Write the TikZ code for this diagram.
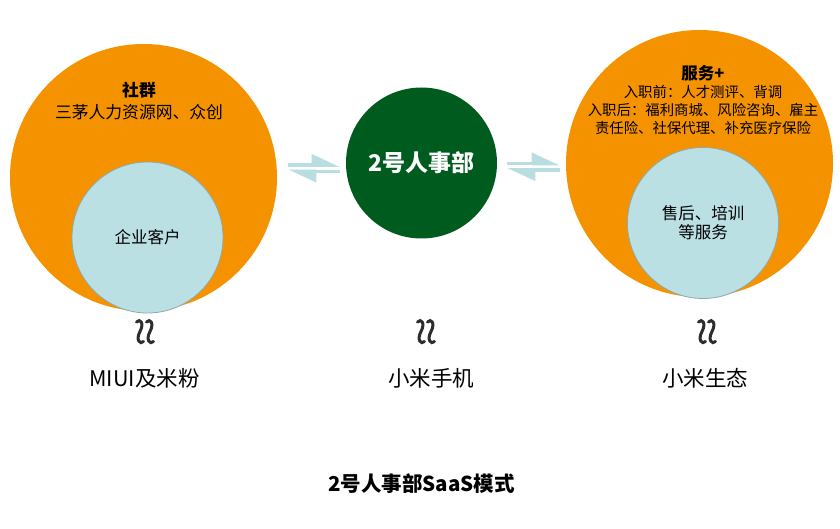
\documentclass[tikz,border=0pt]{standalone}
\usepackage{fontspec}
\setmainfont{Noto Sans CJK SC}
\usetikzlibrary{arrows.meta}
\definecolor{quanorange}{RGB}{245,146,0}
\definecolor{hrgreen}{RGB}{0,92,30}
\definecolor{kehublue}{RGB}{187,224,227}
\definecolor{kehuedge}{RGB}{140,170,176}
\definecolor{jiantou}{RGB}{185,222,226}
\definecolor{wavegray}{RGB}{45,45,45}
\begin{document}
\begin{tikzpicture}[x=1pt,y=-1pt,
    ring/.style={circle,fill=quanorange,minimum size=267pt,inner sep=0pt},
    customer/.style={circle,fill=kehublue,draw=kehuedge,line width=0.8pt,
      minimum size=151pt,inner sep=0pt,align=center,
      font=\fontsize{16.5pt}{19pt}\selectfont},
    platform/.style={circle,fill=hrgreen,minimum size=151pt,inner sep=0pt,
      text=white,font=\bfseries\fontsize{23pt}{26pt}\selectfont},
    exchange/.style={jiantou,line width=3.8pt,
      -{Triangle[left,length=24pt,width=21pt]}},
    squiggle/.style={wavegray,line width=3pt,line cap=round},
    basetext/.style={font=\fontsize{21.5pt}{24pt}\selectfont}]
      \useasboundingbox (0,0) rectangle (840,529);

      \node[ring] (shequn) at (143.5,177.5) {};
      \node[customer] (qiye) at (147.5,237.5) {企业客户};
      \node[align=center,font=\fontsize{16.8pt}{22pt}\selectfont] (shequntxt)
            at (139,101) {\textbf{社群}\\三茅人力资源网、众创};

      \node[platform] (hr) at (421.5,163) {2号人事部};

      \node[ring] (fuwu) at (699.5,163.5) {};
      \node[customer] (shouhou) at (703,223) {售后、培训\\等服务};
      \node[align=center,font=\fontsize{14.4pt}{18pt}\selectfont] (fuwutxt)
            at (703,100) {{\fontsize{16.5pt}{18pt}\selectfont\textbf{服务+}}\\
            入职前：人才测评、背调\\入职后：福利商城、风险咨询、雇主\\
            责任险、社保代理、补充医疗保险};

      \coordinate (l1) at (288,165);   \coordinate (l2) at (340,165);
      \coordinate (l3) at (340,171.5); \coordinate (l4) at (288,171.5);
      \coordinate (r1) at (507,163.5); \coordinate (r2) at (560,163.5);
      \coordinate (r3) at (560,170);   \coordinate (r4) at (507,170);
      \draw[exchange] (l1) -- (l2);
      \draw[exchange] (l3) -- (l4);
      \draw[exchange] (r1) -- (r2);
      \draw[exchange] (r3) -- (r4);

      \foreach \c in {145,426,707}
        \foreach \d in {-5,5}
          \draw[squiggle] ({\c+\d-3.5},322)
                .. controls ({\c+\d},318) and ({\c+\d+4.5},323) .. ({\c+\d},331.5)
                .. controls ({\c+\d-4.5},340) and ({\c+\d},345) .. ({\c+\d+3.5},341.5);

      \node[basetext] (miui) at (144.5,378) {MIUI及米粉};
      \node[basetext] (phone) at (431,378) {小米手机};
      \node[basetext] (eco) at (705,378) {小米生态};

      \node[font=\bfseries\fontsize{20.5pt}{22pt}\selectfont] (title)
            at (421.5,484) {2号人事部SaaS模式};
    \end{tikzpicture}
\end{document}
